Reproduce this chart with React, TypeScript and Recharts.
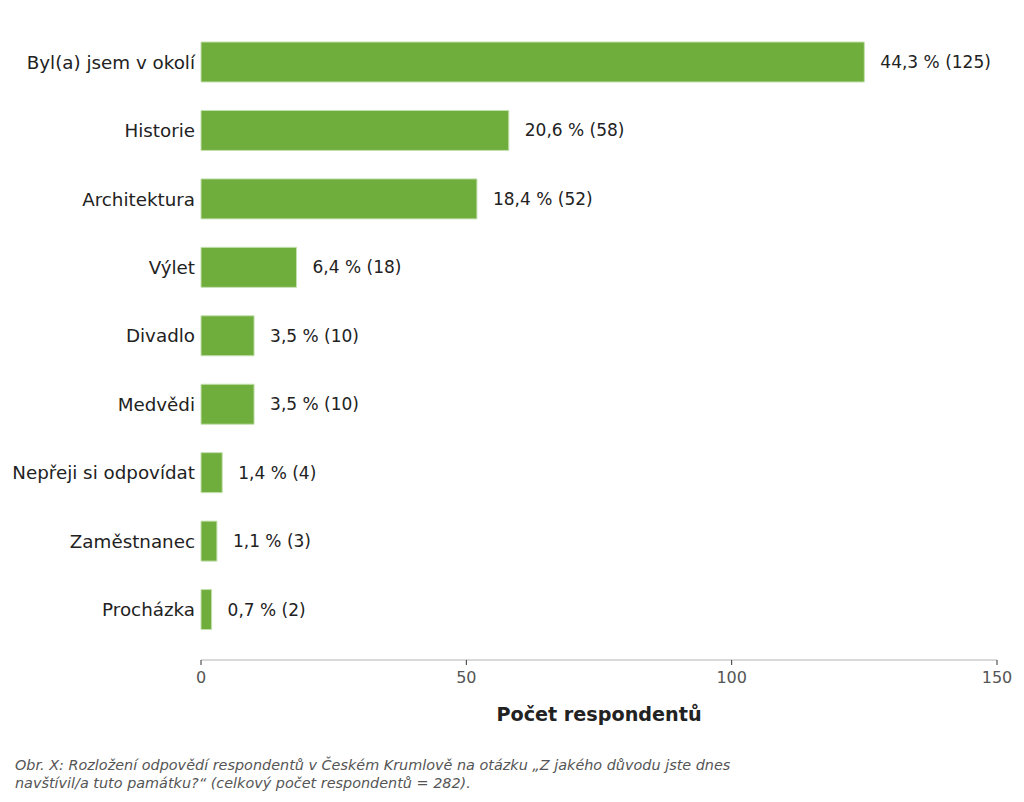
import React from 'react';
import { BarChart, Bar, XAxis, YAxis, LabelList } from 'recharts';

const categories = [
  'Byl(a) jsem v okolí',
  'Historie',
  'Architektura',
  'Výlet',
  'Divadlo',
  'Medvědi',
  'Nepřeji si odpovídat',
  'Zaměstnanec',
  'Procházka',
];
const counts = [125, 58, 52, 18, 10, 10, 4, 3, 2];
const percents = ['44,3', '20,6', '18,4', '6,4', '3,5', '3,5', '1,4', '1,1', '0,7'];
const xTicks = [0, 50, 100, 150];

const data = categories.map((c, i) => ({
  name: c,
  value: counts[i],
  label: `${percents[i]} % (${counts[i]})`,
}));

const FONT = '"DejaVu Sans", sans-serif';

export default function App() {
  return (
    <div style={{ position: 'absolute', left: 0, top: 0, width: 1024, height: 802, background: '#fff', fontFamily: FONT }}>
      <BarChart
        width={1024}
        height={740}
        data={data}
        layout="vertical"
        margin={{ top: 12, right: 27, bottom: 0, left: 0 }}
        barCategoryGap={0}
      >
        <XAxis
          type="number"
          domain={[0, 150]}
          ticks={xTicks}
          height={80}
          axisLine={{ stroke: '#cccccc', strokeWidth: 1.5 }}
          tickLine={{ stroke: '#333333' }}
          tickSize={5}
          tickMargin={7}
          tick={{ fontSize: 16, fill: '#555555', fontFamily: FONT }}
          label={{
            value: 'Počet respondentů',
            position: 'insideBottom',
            offset: 19,
            style: { fontSize: 19.2, fontWeight: 'bold', fill: '#222222', fontFamily: FONT },
          }}
        />
        <YAxis
          type="category"
          dataKey="name"
          width={201}
          axisLine={false}
          tickLine={false}
          tickSize={0}
          tickMargin={6}
          padding={{ top: 16, bottom: 16 }}
          interval={0}
          tick={{ fontSize: 18.3, fill: '#222222', fontFamily: FONT }}
        />
        <Bar
          dataKey="value"
          fill="#6fad3d"
          stroke="#c5e0b0"
          strokeWidth={1}
          barSize={40}
          isAnimationActive={false}
        >
          <LabelList
            dataKey="label"
            position="right"
            offset={16}
            style={{ fontSize: 17, fill: '#222222', fontFamily: FONT }}
          />
        </Bar>
      </BarChart>
      <div
        style={{
          position: 'absolute',
          left: 15,
          top: 756,
          width: 780,
          fontSize: 14.4,
          lineHeight: '18px',
          fontStyle: 'italic',
          color: '#555555',
          fontFamily: FONT,
        }}
      >
        Obr. X: Rozložení odpovědí respondentů v Českém Krumlově na otázku „Z jakého důvodu jste dnes
        <br />
        navštívil/a tuto památku?“ (celkový počet respondentů = 282).
      </div>
    </div>
  );
}
